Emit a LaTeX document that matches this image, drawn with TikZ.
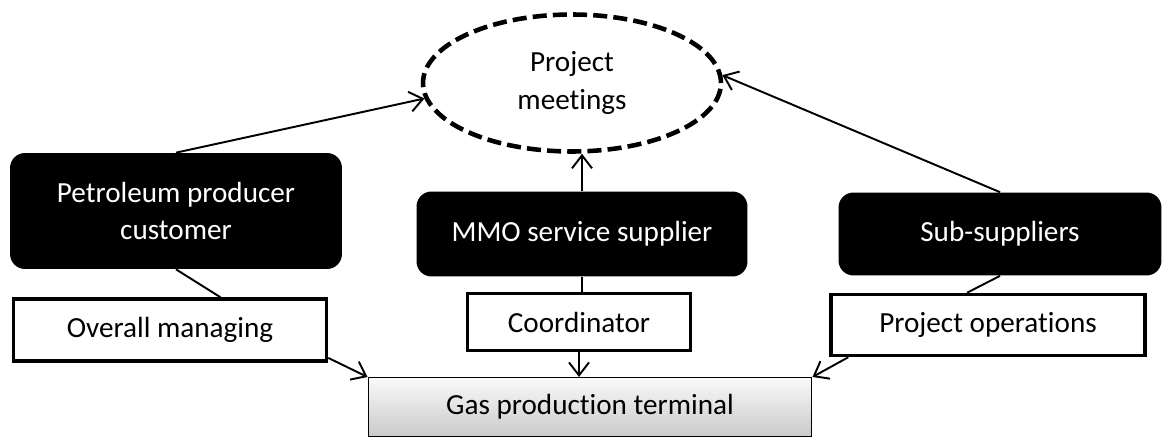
\documentclass[tikz,border=0pt]{standalone}
\usepackage{fontspec}
\setmainfont{Carlito}[Ligatures=NoCommon]
\usetikzlibrary{arrows.meta,shapes.geometric}
\begin{document}
\begin{tikzpicture}[x=0.02cm,y=-0.02cm,
    every node/.style={font=\fontsize{16.6}{21.5}\selectfont,align=center,inner sep=0pt},
    party/.style={fill=black,text=white,rounded corners=0.3cm},
    role/.style={draw,line width=2pt,fill=white},
    arr/.style={line width=1.1pt,-{Straight Barb[length=2.6mm,width=4mm,line width=1.1pt]}},
    link/.style={line width=1.1pt}]
  \useasboundingbox (0,0) rectangle (1162,439);
  % meeting and parties
  \node[ellipse,draw,dash pattern=on 8pt off 3.5pt,line width=2.6pt,minimum width=5.96cm,minimum height=2.74cm] (meet) at (572,83) {Project\\meetings};
  \node[party,minimum width=6.64cm,minimum height=2.32cm] (cust) at (176,211) {Petroleum producer\\customer};
  \node[party,minimum width=6.62cm,minimum height=1.70cm] (mmo) at (582,234) {MMO service supplier};
  \node[party,minimum width=6.46cm,minimum height=1.66cm] (subs) at (1000,234) {Sub-suppliers};
  % roles
  \node[role,minimum width=6.26cm,minimum height=1.24cm] (manage) at (170,330) {Overall managing};
  \node[role,minimum width=4.46cm,minimum height=1.14cm] (coord) at (579,322) {Coordinator};
  \node[role,minimum width=6.28cm,minimum height=1.22cm] (ops) at (988,325) {Project operations};
  \node[draw,line width=0.6pt,top color=gray!4,bottom color=gray!42,minimum width=8.88cm,minimum height=1.18cm] (gas) at (590,407) {Gas production terminal};
  % connectors
  \draw[arr] (cust.north) to (meet.186);
  \draw[arr] (subs.north) to (meet.3);
  \draw[arr] (mmo.north) to (mmo.north |- meet.south);
  \draw[link] (cust.south) to (manage.33);
  \draw[link] (mmo.south) to (mmo.south |- coord.north);
  \draw[link] (subs.south) to (ops.123);
  \draw[arr] (manage.-10) to (gas.north west);
  \draw[arr] (coord.south) to (coord.south |- gas.north);
  \draw[arr] (ops.193) to (gas.north east);
\end{tikzpicture}
\end{document}
